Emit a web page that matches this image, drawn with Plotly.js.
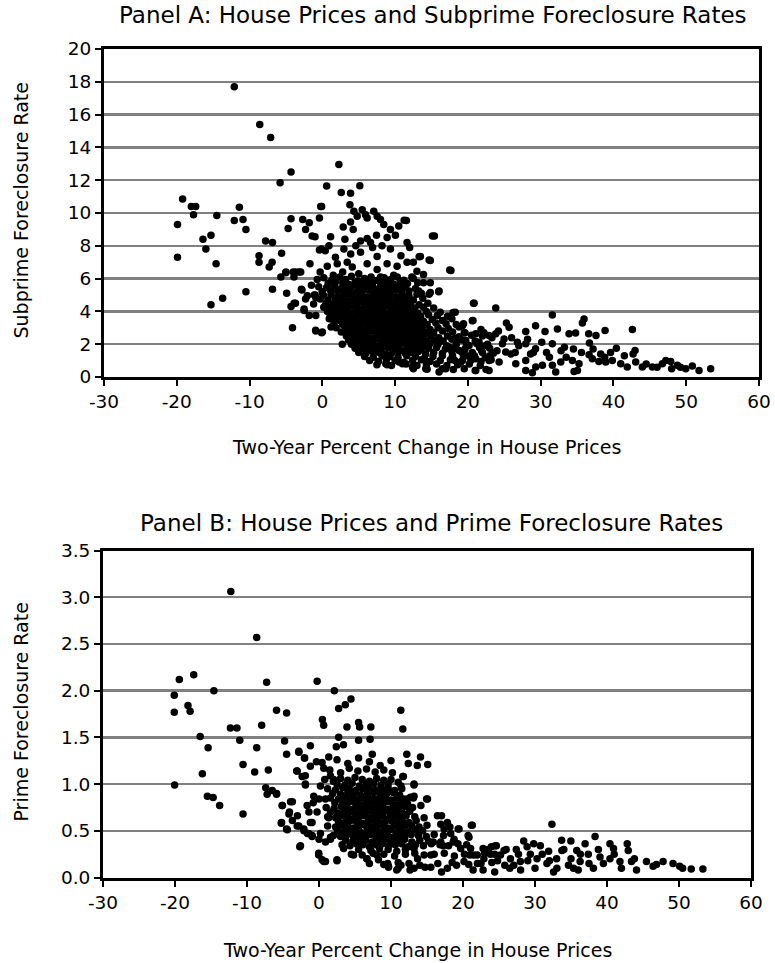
<!DOCTYPE html>
<html><head><meta charset="utf-8">
<script src="https://cdn.plot.ly/plotly-3.0.1.min.js"></script>
<style>html,body{margin:0;padding:0;background:#fff}#chart{width:775px;height:963px}</style>
</head><body><div id="chart"></div>
<script>
// ---------- Panel A: subprime foreclosure rate vs two-year % change in house prices ----------
const subprimeX = [
-19.9,-19.2,-19.9,-18.0,-17.4,-17.7,-16.4,-16.0,-15.3,-15.3,-14.5,-14.6,-13.7,-12.1,-10.9,-11.4,-10.5,-10.5,-12.1,-8.6,-7.1,-5.8,-4.3,
-8.7,-8.7,-7.8,-6.85,-7.3,-6.9,-6.85,-5.6,-5.7,-5.0,
-4.9,-4.7,-4.3,-4.3,-3.7,-4.1,-4.0,-3.2,-3.9,-2.8,
-2.7,-2.5,-2.3,-2.3,-1.8,-1.7,-1.4,-1.0,-1.8,-1.2,
-0.9,-0.9,-0.4,-0.1,-0.4,0.4,-0.1,-5.03,-3.66,-2.97,
-2.88,-2.06,-3.88,-2.51,-0.7,0.0,-0.9,0.5,0.95,1.2,
-1.5,-0.3,-1.1,
2.27,0.59,2.6,3.88,5.15,-0.23,3.79,4.34,5.48,4.79,
5.93,6.16,7.07,7.53,7.99,2.87,3.88,4.24,1.14,8.44,
9.36,10.5,11.55,7.44,8.9,10.04,15.4,5.25,6.16,6.62,
-0.14,0.91,2.96,5.25,7.53,9.36,11.64,12.0,13.47,14.84,
0.68,2.05,3.42,4.11,6.16,7.53,8.9,10.27,11.64,13.0,
13.9,17.67,13.9,14.84,13.24,14.84,15.98,-0.92,0.0,2.74,
20.77,18.26,19.4,20.7,11.24,15.13,14.67,13.3,17.5,16.04,
14.67,20.85,23.83,17.97,20.6,19.25,3.1,4.6,1.8,3.9,
8.2,10.8,12.5,6.9,9.8,12.3,1.5,2.8,5.0,8.0,
35.96,35.73,25.3,25.66,27.95,29.3,30.6,32.3,33.9,34.8,
36.6,37.6,38.85,42.6,36.7,42.97,42.7,40.4,38.25,36.65,
33.26,31.6,30.15,29.3,28.6,27.95,26.8,25.9,25.2,31.6,
21.08,22.91,23.83,24.97,24.74,22.45,21.54,20.16,19.71,18.33,
18.79,17.88,19.25,21.08,22.91,24.29,26.58,27.95,29.32,30.24,
31.61,32.76,34.36,35.27,37.1,38.0,38.94,39.85,41.0,41.9,
43.06,43.97,45.35,46.72,47.87,48.78,49.93,50.84,51.76,53.36,
28.86,32.07,34.59,35.05,27.95,16.96,21.08,22.91,16.04,12.38,
14.21,8.72,10.55,26.0,27.0,28.2,29.0,30.8,31.2,32.8,
33.5,34.5,35.6,37.2,38.8,39.6,41.5,44.5,46.0,47.2,
48.0,49.2,26.5,24.0,23.0,21.9,20.6,19.8,18.2,17.5,
22.2,23.3,21.8,19.5,24.2,
0.2,1.3,2.4,3.2,4.0,4.9,5.8,6.7,7.6,8.5,9.4,10.3,11.2,12.5,
0.8,1.8,2.8,3.6,4.5,5.3,6.2,7.1,8.0,8.9,9.8,10.7,11.7,13.1,
-0.5,0.6,1.7,2.6,3.4,4.3,5.1,6.0,6.9,7.8,8.7,9.6,10.5,11.4,12.8,
0.0,1.1,2.1,3.0,3.8,4.7,5.5,6.4,7.3,8.2,9.1,10.0,10.9,11.9,13.6,
-1.0,0.2,1.2,2.2,3.0,3.8,4.6,5.4,6.2,7.0,7.8,8.6,9.4,10.2,11.0,11.9,13.0,
-0.3,0.8,1.8,2.6,3.4,4.2,5.0,5.8,6.6,7.4,8.2,9.0,9.8,10.6,11.5,12.5,13.8,
0.5,1.5,2.4,3.2,4.0,4.8,5.6,6.4,7.2,8.0,8.8,9.6,10.4,11.2,12.1,13.3,14.5,
0.2,1.1,2.0,2.8,3.6,4.4,5.2,6.0,6.8,7.6,8.4,9.2,10.0,10.8,11.7,12.7,13.9,15.3,
0.7,1.6,2.4,3.2,4.0,4.8,5.6,6.4,7.2,8.0,8.8,9.6,10.4,11.2,12.1,13.1,14.3,16.2,
1.1,2.0,2.8,3.6,4.4,5.2,6.0,6.8,7.6,8.4,9.2,10.0,10.8,11.6,12.5,13.5,14.6,15.8,17.2,
1.5,2.4,3.2,4.0,4.8,5.6,6.4,7.2,8.0,8.8,9.6,10.4,11.2,12.0,12.9,13.9,15.1,16.5,17.8,
1.6,2.8,3.6,4.4,5.2,6.0,6.8,7.6,8.4,9.2,10.0,10.8,11.6,12.4,13.3,14.4,15.6,17.0,18.4,
1.9,3.2,4.0,4.8,5.6,6.4,7.2,8.0,8.8,9.6,10.4,11.2,12.0,12.8,13.7,14.8,15.9,17.3,18.8,
2.6,3.6,4.4,5.2,6.0,6.8,7.6,8.4,9.2,10.0,10.8,11.6,12.4,13.2,14.2,15.3,16.5,17.9,19.6,
3.3,4.2,5.0,5.8,6.6,7.4,8.2,9.0,9.8,10.6,11.4,12.2,13.0,13.9,14.9,16.0,17.2,18.8,20.5,22.0,
3.6,4.6,5.4,6.2,7.0,7.8,8.6,9.4,10.2,11.0,11.8,12.6,13.4,14.3,15.4,16.6,17.8,19.2,21.0,
4.0,4.9,5.7,6.5,7.3,8.1,8.9,9.7,10.5,11.3,12.1,12.9,13.8,14.8,15.9,17.1,18.4,19.8,21.2,22.7,
4.5,5.4,6.3,7.2,8.1,9.0,9.9,10.8,11.7,12.6,13.6,14.6,15.7,16.9,18.3,19.6,21.6,23.0,
5.0,6.0,6.9,7.8,8.7,9.6,10.5,11.4,12.3,13.2,14.2,15.3,16.5,17.8,19.2,20.6,22.0,23.5,
5.8,7.0,8.2,9.3,10.4,11.6,12.8,14.0,15.2,16.5,17.9,19.4,20.9,22.4,
6.5,7.7,8.8,10.0,11.2,12.4,13.6,14.8,16.2,17.6,19.0,20.4,21.8,23.2,
7.5,9.5,11.5,13.0,14.3,15.7,17.1,18.6,20.2,21.7,
8.9,11.0,12.5,14.4,16.5,18.0,19.5,21.0,22.5
];
const subprimeY = [
9.3,10.85,7.3,10.4,10.4,9.9,8.4,7.8,8.65,4.4,9.85,6.9,4.8,9.55,9.6,10.35,9.0,5.2,17.7,15.4,14.6,11.85,12.5,
7.4,7.0,8.3,8.2,6.7,7.0,5.35,7.55,6.1,6.4,
5.1,9.05,9.65,4.3,4.5,3.0,6.4,6.4,6.1,5.3,
9.6,4.05,4.75,9.0,9.4,6.9,8.6,8.55,3.75,4.45,
3.75,2.8,9.7,10.4,7.75,7.7,2.7,6.35,6.4,6.4,
5.35,4.95,4.5,4.15,5.95,5.15,4.85,4.35,3.55,3.05,
5.6,6.4,5.0,
12.95,11.65,11.25,11.2,11.66,10.4,10.5,10.1,10.2,9.8,
9.9,9.7,10.1,9.8,9.6,9.15,9.45,9.0,8.55,9.3,
9.0,9.2,9.55,8.65,8.5,8.65,8.6,8.3,8.45,8.2,
7.8,8.0,7.8,7.6,7.35,7.8,8.2,7.9,7.35,7.1,
6.75,6.9,7.0,6.7,6.9,6.55,6.9,6.75,7.0,6.45,
6.25,6.5,5.75,5.75,5.25,5.15,5.2,2.85,2.75,2.0,
4.5,3.95,3.25,3.45,9.56,8.59,7.13,7.33,6.53,5.25,
5.05,4.5,4.2,3.94,3.43,3.13,8.4,8.0,7.3,7.5,
8.0,7.4,7.0,7.9,6.2,6.1,6.2,6.4,6.3,6.1,
3.54,3.29,3.29,3.03,2.77,3.13,2.77,2.93,2.63,2.69,
2.63,2.53,2.83,2.89,2.08,1.62,1.41,1.76,1.41,1.35,
1.82,2.02,2.12,1.72,1.41,2.02,2.12,1.41,1.52,3.78,
2.63,2.53,2.63,2.32,2.02,1.92,2.12,1.92,2.22,2.36,
1.62,1.31,1.01,1.11,1.01,0.91,0.81,1.01,0.61,0.71,
0.71,0.91,1.01,0.81,1.11,0.95,0.91,1.01,0.81,0.61,
0.91,0.61,0.61,0.81,0.95,0.71,0.51,0.67,0.4,0.51,
0.26,0.3,0.34,0.4,0.4,0.51,0.4,0.4,0.3,0.61,
0.51,0.81,0.91,2.4,1.9,2.3,1.5,1.5,1.2,1.6,
1.2,1.7,1.5,1.7,1.2,1.5,1.3,0.8,0.6,1.0,
0.5,0.6,1.5,1.6,1.3,1.6,1.5,1.3,1.0,1.8,
2.7,2.4,2.9,2.7,2.8,
6.05,5.9,6.1,5.95,6.15,5.85,6.0,6.1,5.9,6.05,5.95,6.1,5.9,6.0,
5.7,5.8,5.75,5.65,5.8,5.7,5.75,5.85,5.7,5.75,5.65,5.8,5.7,5.75,
5.5,5.45,5.55,5.4,5.5,5.6,5.45,5.5,5.55,5.4,5.5,5.45,5.55,5.5,5.4,
5.2,5.3,5.25,5.15,5.3,5.2,5.25,5.3,5.2,5.25,5.15,5.3,5.2,5.25,5.1,
5.0,4.95,5.05,4.9,5.0,5.05,4.95,5.0,4.9,5.05,5.0,4.95,5.05,4.9,5.0,4.95,5.05,
4.75,4.7,4.8,4.75,4.65,4.75,4.8,4.7,4.75,4.8,4.7,4.75,4.65,4.8,4.75,4.7,4.8,
4.5,4.45,4.55,4.5,4.4,4.5,4.55,4.45,4.5,4.55,4.4,4.5,4.45,4.55,4.5,4.4,4.5,
4.25,4.2,4.3,4.2,4.25,4.3,4.15,4.25,4.3,4.2,4.25,4.3,4.2,4.25,4.3,4.2,4.25,4.2,
4.0,3.95,4.05,4.0,3.9,4.0,4.05,3.95,4.0,4.05,3.9,4.0,3.95,4.05,4.0,3.9,4.0,3.95,
3.75,3.7,3.8,3.75,3.7,3.8,3.75,3.65,3.75,3.8,3.7,3.75,3.8,3.7,3.75,3.7,3.8,3.75,3.7,
3.5,3.45,3.55,3.5,3.4,3.5,3.55,3.45,3.5,3.55,3.4,3.5,3.45,3.55,3.5,3.4,3.5,3.45,3.55,
3.25,3.2,3.3,3.25,3.2,3.3,3.25,3.15,3.25,3.3,3.2,3.25,3.3,3.2,3.25,3.2,3.3,3.25,3.2,
3.0,2.95,3.05,3.0,2.9,3.0,3.05,2.95,3.0,3.05,2.9,3.0,2.95,3.05,3.0,2.9,3.0,2.95,3.05,
2.75,2.7,2.8,2.75,2.7,2.8,2.75,2.65,2.75,2.8,2.7,2.75,2.8,2.7,2.75,2.7,2.8,2.75,2.7,
2.5,2.45,2.55,2.5,2.4,2.5,2.55,2.45,2.5,2.55,2.4,2.5,2.45,2.55,2.5,2.4,2.5,2.45,2.55,2.5,
2.25,2.2,2.3,2.25,2.2,2.3,2.25,2.15,2.25,2.3,2.2,2.25,2.3,2.2,2.25,2.2,2.3,2.25,2.2,
2.0,1.95,2.05,2.0,1.9,2.0,2.05,1.95,2.0,2.05,1.9,2.0,1.95,2.05,2.0,1.9,2.0,1.95,2.05,2.0,
1.75,1.7,1.8,1.75,1.7,1.8,1.75,1.65,1.75,1.8,1.7,1.75,1.8,1.7,1.75,1.7,1.8,1.75,
1.5,1.45,1.55,1.5,1.4,1.5,1.55,1.45,1.5,1.55,1.4,1.5,1.45,1.55,1.5,1.4,1.5,1.45,
1.25,1.2,1.3,1.25,1.2,1.3,1.25,1.15,1.25,1.3,1.2,1.25,1.3,1.2,
1.0,0.95,1.05,1.0,0.9,1.0,1.05,0.95,1.0,1.05,0.9,1.0,0.95,1.05,
0.75,0.7,0.8,0.7,0.75,0.8,0.7,0.75,0.8,0.7,
0.75,0.81,0.51,0.47,0.5,0.45,0.5,0.4,0.45
];

// ---------- Panel B: prime foreclosure rate vs two-year % change in house prices ----------
const primeX = [
-20.1,-20.1,-19.4,-17.4,-18.2,-17.9,-16.5,-15.4,-14.6,-16.2,
-20.05,-12.3,-11.4,-11.0,-10.55,-8.65,-8.65,-8.93,-7.27,-7.96,
-7.04,-7.4,-5.9,-4.5,-4.78,-4.5,-2.8,-2.0,-1.2,-3.1,
-1.9,-1.2,-0.26,2.13,0.47,0.65,2.73,3.65,4.44,2.73,
3.88,2.4,3.4,5.5,5.64,7.2,5.5,7.1,7.4,11.36,
11.64,12.19,12.4,13.65,14.1,15.1,11.64,13.2,-12.25,-15.5,
-14.7,-13.8,-10.55,-7.2,-5.9,-5.1,-3.7,-5.2,-4.4,-4.1,
-3.7,-3.0,-2.67,-2.8,-2.1,-1.6,-0.95,-1.2,-1.4,-1.9,
-0.8,0.0,0.2,-0.04,0.43,0.9,2.5,0.0,0.9,1.6,
6.65,8.26,9.65,11.0,
-6.49,-5.89,-5.11,-3.95,-4.18,-5.24,-4.51,-3.03,-2.57,-2.11,
-1.42,-0.96,0.2,-0.04,0.66,2.5,-2.8,-2.02,-3.03,-2.34,
-1.88,-0.36,0.43,1.35,0.66,1.58,2.04,-0.73,-1.65,-0.27,
0.89,1.35,-0.96,1.58,3.42,4.8,6.65,8.03,9.65,10.8,
12.64,14.72,17.02,19.1,20.94,22.79,23.94,24.63,24.4,22.79,
21.4,17.02,18.18,19.33,21.17,20.71,18.64,17.25,15.87,11.72,
13.2,12.18,13.1,14.95,
32.35,34.98,38.34,36.96,40.41,42.81,42.95,28.43,29.82,30.74,
33.73,31.89,45.48,46.87,47.79,49.17,50.09,51.7,53.32,44.1,
41.8,40.41,39.03,38.11,36.27,35.35,34.65,33.04,32.58,31.66,
30.28,29.35,27.97,27.05,26.59,25.21,23.82,22.9,21.98,21.06,
20.83,19.45,18.29,17.37,16.91,21.29,35.8,37.4,40.9,43.4,
24.5,25.7,28.9,27.7,33.7,36.3,46.4,50.5,11.38,13.2,
15.07,14.15,16.45,17.83,16.91,18.76,19.68,15.53,13.69,11.38,
9.54,13.2,15.53,17.83,20.14,22.0,23.5,24.8,26.0,26.5,
27.4,28.0,29.0,30.0,31.0,32.0,33.0,34.0,35.0,36.0,
37.5,38.8,39.5,41.0,42.0,43.8,
2.5,4.0,5.5,7.0,8.5,10.0,
1.5,3.0,4.2,5.4,6.6,7.8,9.0,10.2,
0.8,2.0,3.0,4.0,5.0,6.0,7.0,8.0,9.0,10.0,11.0,
2.5,3.6,4.6,5.6,6.6,7.6,8.6,9.6,
1.2,2.3,3.3,4.2,5.1,6.0,6.9,7.8,8.7,9.6,10.5,11.5,
1.9,3.0,4.0,4.9,5.8,6.7,7.6,8.5,9.4,10.3,11.2,
1.6,2.7,3.6,4.4,5.2,6.0,6.8,7.6,8.4,9.2,10.0,10.8,11.7,12.7,
2.2,3.3,4.2,5.0,5.8,6.6,7.4,8.2,9.0,9.8,10.6,11.4,12.3,
1.0,2.1,3.1,3.9,4.7,5.5,6.3,7.1,7.9,8.7,9.5,10.3,11.1,12.0,13.0,
1.6,2.6,3.5,4.3,5.1,5.9,6.7,7.5,8.3,9.1,9.9,10.7,11.6,12.6,
1.2,2.3,3.2,4.0,4.8,5.6,6.4,7.2,8.0,8.8,9.6,10.4,11.2,12.1,13.3,14.6,
2.7,3.6,4.4,5.2,6.0,6.8,7.6,8.4,9.2,10.0,10.8,11.6,12.5,13.5,
1.2,2.3,3.2,4.0,4.8,5.6,6.4,7.2,8.0,8.8,9.6,10.4,11.2,12.0,12.9,13.9,15.0,
2.6,3.5,4.3,5.1,5.9,6.7,7.5,8.3,9.1,9.9,10.7,11.5,12.4,13.4,14.4,
2.0,3.0,3.9,4.7,5.5,6.3,7.1,7.9,8.7,9.5,10.3,11.1,11.9,12.8,13.8,14.9,16.0,17.3,
3.7,4.7,5.6,6.5,7.4,8.3,9.2,10.1,11.0,11.9,12.9,14.0,15.2,
3.2,4.3,5.2,6.1,7.0,7.9,8.8,9.7,10.6,11.5,12.4,13.4,14.5,15.6,16.8,18.0,19.3,20.5,
5.5,7.2,8.4,9.6,10.8,12.0,13.2,
4.5,6.0,7.5,9.0,10.5,12.0,13.3,14.6,16.0,17.4,18.8,20.2,21.5,23.0,24.4,
7.0,9.0,11.0,12.5,14.0,16.5,18.5,20.8,22.5,24.0,25.8
];
const primeY = [
1.95,1.77,2.12,2.17,1.84,1.78,1.51,1.39,2.0,1.11,
0.99,1.6,1.6,1.47,1.21,2.57,1.39,1.13,2.09,1.63,
1.15,0.96,1.79,1.76,1.46,1.32,1.35,1.28,1.41,1.14,
1.09,1.19,2.10,2.0,1.69,1.63,1.81,1.85,1.91,1.5,
1.61,1.4,1.42,1.66,1.61,1.61,1.47,1.48,1.32,1.79,
1.59,1.32,1.22,1.20,1.29,1.21,1.08,1.0,3.06,0.87,
0.855,0.77,0.68,0.89,0.89,0.77,0.81,0.59,0.51,0.70,
0.61,0.66,0.33,0.55,0.5,0.47,0.45,0.59,0.70,1.0,
0.8,0.84,0.98,0.26,0.19,0.17,0.19,0.41,0.38,0.43,
0.2,0.19,0.12,0.1,
0.93,0.9,0.77,0.81,0.68,0.58,0.52,0.55,0.34,0.52,
0.47,0.44,0.47,0.24,0.17,0.18,1.34,1.28,1.14,1.08,
0.99,1.24,1.23,1.29,1.17,1.09,1.05,0.87,0.77,0.7,
0.84,0.64,0.59,0.41,0.31,0.24,0.2,0.24,0.11,0.08,
0.08,0.11,0.06,0.13,0.24,0.31,0.33,0.34,0.06,0.08,
0.08,0.66,0.54,0.52,0.56,0.45,0.38,0.34,0.38,1.08,
0.99,0.84,0.85,0.84,
0.57,0.39,0.44,0.36,0.36,0.36,0.29,0.39,0.36,0.34,
0.29,0.28,0.17,0.14,0.17,0.15,0.12,0.09,0.09,0.08,
0.17,0.2,0.22,0.1,0.17,0.1,0.13,0.1,0.06,0.15,
0.2,0.25,0.17,0.13,0.2,0.24,0.25,0.2,0.24,0.31,
0.43,0.52,0.47,0.52,0.57,0.56,0.29,0.25,0.31,0.17,
0.34,0.29,0.33,0.25,0.4,0.25,0.12,0.1,0.98,0.87,
0.84,0.77,0.66,0.59,0.38,0.41,0.31,0.24,0.2,0.13,
0.15,0.1,0.11,0.1,0.17,0.15,0.3,0.18,0.3,0.1,
0.3,0.08,0.18,0.1,0.25,0.18,0.2,0.3,0.2,0.08,
0.15,0.3,0.15,0.25,0.1,0.2,
1.26,1.22,1.28,1.24,1.2,1.25,
1.15,1.12,1.17,1.14,1.16,1.13,1.15,1.12,
1.05,1.03,1.06,1.04,1.07,1.05,1.03,1.06,1.04,1.05,1.02,
1.0,0.99,1.01,0.98,1.0,1.01,0.99,1.0,
0.95,0.94,0.96,0.95,0.93,0.95,0.96,0.94,0.95,0.96,0.93,0.95,
0.9,0.89,0.91,0.9,0.88,0.9,0.91,0.89,0.9,0.91,0.88,
0.85,0.84,0.86,0.85,0.83,0.85,0.86,0.84,0.85,0.86,0.83,0.85,0.84,0.86,
0.8,0.79,0.81,0.8,0.78,0.8,0.81,0.79,0.8,0.81,0.78,0.8,0.79,
0.75,0.74,0.76,0.75,0.73,0.75,0.76,0.74,0.75,0.76,0.73,0.75,0.74,0.76,0.75,
0.7,0.69,0.71,0.7,0.68,0.7,0.71,0.69,0.7,0.71,0.68,0.7,0.69,0.71,
0.65,0.64,0.66,0.65,0.63,0.65,0.66,0.64,0.65,0.66,0.63,0.65,0.64,0.66,0.65,0.64,
0.6,0.59,0.61,0.6,0.58,0.6,0.61,0.59,0.6,0.61,0.58,0.6,0.59,0.61,
0.55,0.54,0.56,0.55,0.53,0.55,0.56,0.54,0.55,0.56,0.53,0.55,0.54,0.56,0.55,0.54,0.56,
0.5,0.49,0.51,0.5,0.48,0.5,0.51,0.49,0.5,0.51,0.48,0.5,0.49,0.51,0.5,
0.45,0.44,0.46,0.45,0.43,0.45,0.46,0.44,0.45,0.46,0.43,0.45,0.44,0.46,0.45,0.44,0.46,0.45,
0.4,0.39,0.41,0.4,0.38,0.4,0.41,0.39,0.4,0.41,0.38,0.4,0.39,
0.35,0.34,0.36,0.35,0.33,0.35,0.36,0.34,0.35,0.36,0.33,0.35,0.34,0.36,0.35,0.34,0.36,0.35,
0.3,0.29,0.31,0.3,0.28,0.3,0.31,
0.25,0.24,0.26,0.25,0.23,0.25,0.26,0.24,0.25,0.26,0.23,0.25,0.24,0.26,0.25,
0.15,0.14,0.16,0.15,0.13,0.15,0.16,0.14,0.15,0.16,0.13
];

// ---------- ticks and texts ----------
const xTickVals = [-30,-20,-10,0,10,20,30,40,50,60];
const xTickText = ['-30','-20','-10','0','10','20','30','40','50','60'];
const titleA = 'Panel A: House Prices and Subprime Foreclosure Rates';
const titleB = 'Panel B: House Prices and Prime Foreclosure Rates';
const xTitle = 'Two-Year Percent Change in House Prices';
const yTitleA = 'Subprime Foreclosure Rate';
const yTitleB = 'Prime Foreclosure Rate';

const FONT = 'DejaVu Sans';
const tickFont = {family: FONT, size: 18.5, color: '#000'};

function xAxis(domain, anchor) {
  return {
    domain: domain, anchor: anchor, range: [-30, 60],
    tickmode: 'array', tickvals: xTickVals, ticktext: xTickText,
    ticks: 'outside', ticklen: 6, tickwidth: 2, tickcolor: '#000',
    showline: true, linecolor: '#000', linewidth: 3, mirror: true,
    showgrid: false, zeroline: false, tickfont: tickFont, fixedrange: true
  };
}
function yAxis(domain, anchor, range, dtick, fmt) {
  return {
    domain: domain, anchor: anchor, range: range, tick0: 0, dtick: dtick,
    tickformat: fmt, ticks: 'outside', ticklen: 6, tickwidth: 2, tickcolor: '#000',
    showline: true, linecolor: '#000', linewidth: 3, mirror: true,
    showgrid: true, gridcolor: '#808080', gridwidth: 2.5,
    zeroline: false, tickfont: tickFont, fixedrange: true
  };
}

const W = 775, H = 963;
const px = v => v / W, py = v => 1 - v / H;

const marker = {color: '#000', size: 7.5, line: {width: 0}};
const data = [
  {type: 'scatter', mode: 'markers', x: subprimeX, y: subprimeY, xaxis: 'x', yaxis: 'y', marker: marker, hoverinfo: 'skip', cliponaxis: true},
  {type: 'scatter', mode: 'markers', x: primeX, y: primeY, xaxis: 'x2', yaxis: 'y2', marker: marker, hoverinfo: 'skip', cliponaxis: true}
];

const ann = (text, x, y, size, angle) => ({
  text: text, xref: 'paper', yref: 'paper', x: px(x), y: py(y),
  xanchor: 'center', yanchor: 'middle', showarrow: false, textangle: angle || 0,
  font: {family: FONT, size: size, color: '#000'}
});

const layout = {
  width: W, height: H, margin: {l: 0, r: 0, t: 0, b: 0},
  paper_bgcolor: '#fff', plot_bgcolor: '#fff', showlegend: false,
  xaxis: xAxis([px(104), px(759)], 'y'),
  yaxis: yAxis([py(377), py(49)], 'x', [0, 20], 2, 'd'),
  xaxis2: xAxis([px(103), px(751)], 'y2'),
  yaxis2: yAxis([py(877.5), py(550.5)], 'x2', [0, 3.5], 0.5, '.1f'),
  annotations: [
    ann(titleA, 433, 15.5, 23),
    ann(xTitle, 426, 447, 19),
    ann(yTitleA, 20.5, 210, 19, -90),
    ann(titleB, 431, 523, 23),
    ann(xTitle, 417, 950, 19),
    ann(yTitleB, 20.5, 712, 19, -90)
  ]
};

Plotly.newPlot('chart', data, layout, {staticPlot: true, displayModeBar: false});
</script>
</body></html>
